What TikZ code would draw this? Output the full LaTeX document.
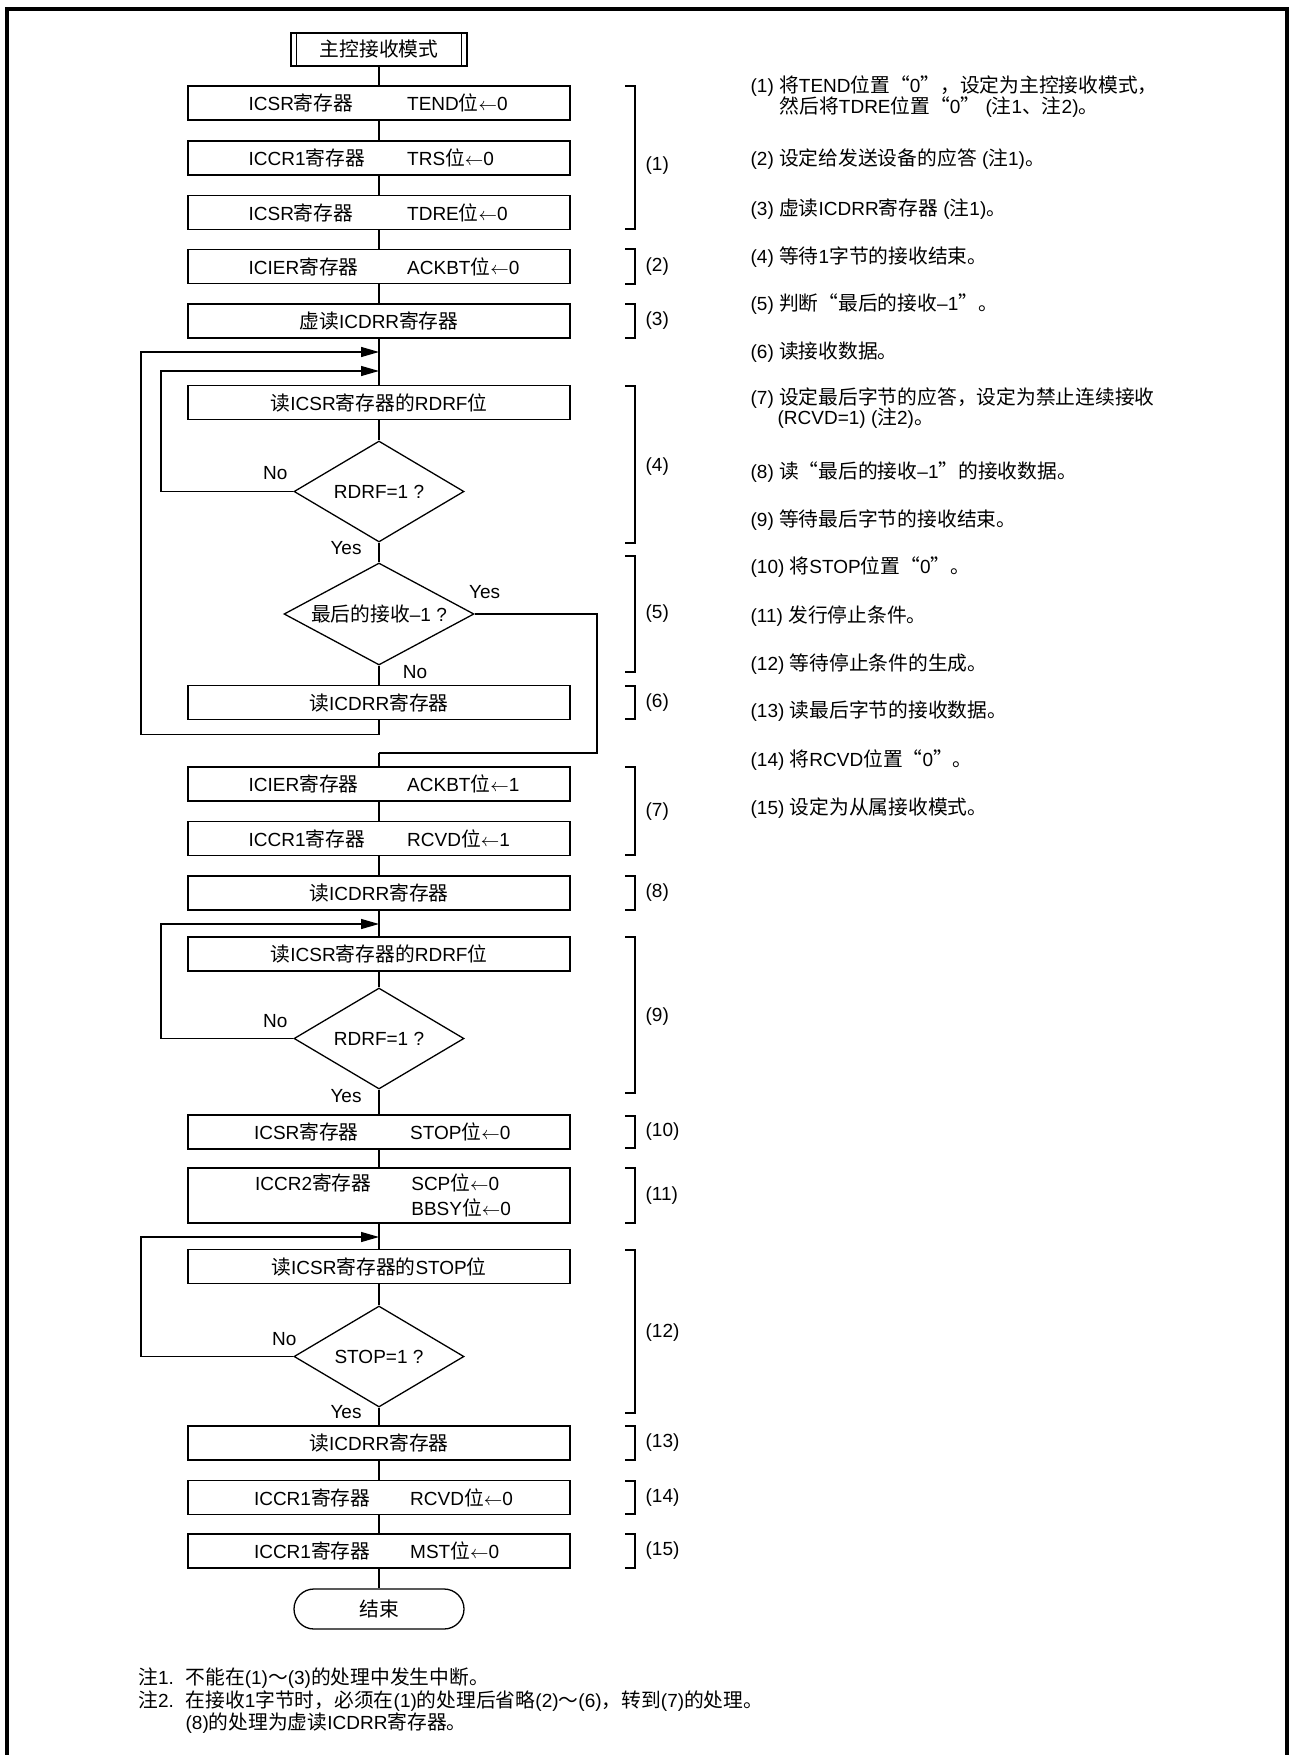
\documentclass[tikz,border=0pt]{standalone}
\usepackage{fontspec}
\setmainfont{Liberation Sans}
\newfontfamily\cjkfont[Scale=1.04]{Noto Sans CJK SC}
\usetikzlibrary{shapes.geometric,arrows.meta,calc}

% switch to the CJK family for Chinese characters
\XeTeXinterchartokenstate=1
\newXeTeXintercharclass\cjkclass
\newcount\cjkcode
\newcommand\setcjkrange[2]{%
  \cjkcode=#1
  \loop
    \XeTeXcharclass\cjkcode=\cjkclass
    \advance\cjkcode by 1
  \ifnum\cjkcode<#2 \repeat}
\setcjkrange{"4E00}{"A000}
\setcjkrange{"3000}{"3040}
\setcjkrange{"FF00}{"FFF0}
\setcjkrange{"201C}{"201E}
\XeTeXinterchartoks 0 \cjkclass = {\cjkfont}
\XeTeXinterchartoks 4095 \cjkclass = {\cjkfont}
\XeTeXinterchartoks \cjkclass 0 = {\rmfamily}
\XeTeXinterchartoks \cjkclass 4095 = {\rmfamily}

\newcommand{\setto}{$\leftarrow$}
\newcommand{\rowA}[2]{\hbox to 191pt{\hskip30.3pt\hbox to 79.3pt{#1\hss}#2\hss}}
\newcommand{\rowB}[2]{\hbox to 191pt{\hskip33pt\hbox to 78.1pt{#1\hss}#2\hss}}

\begin{document}
\begin{tikzpicture}[x=0.5pt, y=-0.5pt, line width=0.65pt,
    font=\fontsize{9.5pt}{11pt}\selectfont,
    box/.style={draw, rectangle, minimum width=191pt, minimum height=17pt, inner sep=0pt},
    dia/.style={draw, diamond, aspect=2, inner sep=0pt, minimum width=85pt, minimum height=50.5pt},
    term/.style={draw, rectangle, rounded corners=10pt, minimum width=85pt, minimum height=20pt, inner sep=0pt},
    txt/.style={anchor=west, inner sep=0pt},
    arr/.style={-{Triangle[length=9pt,width=5pt]}}]
    \useasboundingbox (0,0) rectangle (1291,1755);
    \draw[line width=2pt] (6.5,1755) -- (6.5,9.5) -- (1287,9.5) -- (1287,1755);

    \node[box, minimum width=88pt, minimum height=16.5pt] (start) at (379,49.5) {主控接收模式};
    \draw ([xshift=3.2pt]start.north west) -- ([xshift=3.2pt]start.south west);
    \draw ([xshift=-3.2pt]start.north east) -- ([xshift=-3.2pt]start.south east);

    \node[box] (b1) at (379,103) {\rowA{ICSR寄存器}{TEND位\setto0}};
    \node[box] (b2) at (379,158) {\rowA{ICCR1寄存器}{TRS位\setto0}};
    \node[box] (b3) at (379,212.5) {\rowA{ICSR寄存器}{TDRE位\setto0}};
    \node[box] (b4) at (379,266.5) {\rowA{ICIER寄存器}{ACKBT位\setto0}};
    \node[box] (b5) at (379,321) {虚读ICDRR寄存器};
    \coordinate (m1) at (379,352); \coordinate (m2) at (379,371);
    \node[box] (b6) at (379,402.5) {读ICSR寄存器的RDRF位};
    \node[dia] (d1) at (379,491.5) {RDRF=1 ?};
    \node[dia, minimum width=95pt, minimum height=51pt] (d2) at (379,614) {最后的接收–1 ?};
    \node[box] (b7) at (379,702.5) {读ICDRR寄存器};
    \coordinate (j1) at (379,753);
    \node[box] (b8) at (379,784) {\rowA{ICIER寄存器}{ACKBT位\setto1}};
    \node[box] (b9) at (379,838.5) {\rowA{ICCR1寄存器}{RCVD位\setto1}};
    \node[box] (b10) at (379,893) {读ICDRR寄存器};
    \coordinate (m3) at (379,924);
    \node[box] (b11) at (379,954) {读ICSR寄存器的RDRF位};
    \node[dia] (d3) at (379,1038.5) {RDRF=1 ?};
    \node[box] (b12) at (379,1132) {\rowB{ICSR寄存器}{STOP位\setto0}};
    \node[box, minimum height=27.5pt] (b13) at (379,1195.5) {};
    \node[txt] (b13a) at (254.5,1183) {ICCR2寄存器};
    \node[txt] (b13b) at (410.7,1183) {SCP位\setto0};
    \node[txt] (b13c) at (410.7,1208) {BBSY位\setto0};
    \coordinate (m4) at (379,1237);
    \node[box] (b14) at (379,1266.5) {读ICSR寄存器的STOP位};
    \node[dia] (d4) at (379,1356.5) {STOP=1 ?};
    \node[box] (b15) at (379,1443) {读ICDRR寄存器};
    \node[box] (b16) at (379,1497.5) {\rowB{ICCR1寄存器}{RCVD位\setto0}};
    \node[box] (b17) at (379,1551) {\rowB{ICCR1寄存器}{MST位\setto0}};
    \node[term] (fin) at (379,1609) {结束};

    \draw (start) -- (b1) -- (b2) -- (b3) -- (b4) -- (b5) -- (b6) -- (d1) -- (d2) -- (b7);
    \draw (j1) -- (b8) -- (b9) -- (b10) -- (b11) -- (d3) -- (b12) -- (b13) -- (b14) -- (d4) -- (b15) -- (b16) -- (b17) -- (fin);

    \coordinate (xo) at (141,0); \coordinate (xi) at (161,0); \coordinate (xr) at (597,0);
    \draw[arr] (b7.south) -- ++(0,14) -| (xo |- m1) -- (m1);
    \draw[arr] (d1.west) -| (xi |- m2) -- (m2);
    \draw (d2.east) -| (xr |- j1) -- (j1);
    \draw[arr] (d3.west) -| (xi |- m3) -- (m3);
    \draw[arr] (d4.west) -| (xo |- m4) -- (m4);

    \node (no1) at ($(d1.west)+(-18,-18)$) {No};
    \node (yes1) at ($(d1.south)+(-33,5)$) {Yes};
    \node (yes2) at ($(d2.east)+(10,-22)$) {Yes};
    \node (no2) at ($(d2.south)+(36,6)$) {No};
    \node (no3) at ($(d3.west)+(-18,-17)$) {No};
    \node (yes3) at ($(d3.south)+(-33,6)$) {Yes};
    \node (no4) at ($(d4.west)+(-9,-17)$) {No};
    \node (yes4) at ($(d4.south)+(-33,4)$) {Yes};

    \foreach \t/\b/\k/\ly in {86/229/1/166, 249/284/2/266.5, 304/338/3/321, 386/543/4/467, 556/672/5/614, 686/719/6/702.5, 767/855/7/812, 876/910/8/893, 937/1093/9/1017, 1116/1148/10/1132, 1168/1223/11/1195.5, 1250/1413/12/1333, 1426/1460/13/1443, 1481/1514/14/1497.5, 1534/1568/15/1551} {
        \draw (625,\t) -- (635,\t) -- (635,\b) -- (625,\b);
        \node[txt] (s\k) at (645,\ly) {(\k)};
    }

    \node[txt] (c1) at (750,86) {(1) 将TEND位置“0”，设定为主控接收模式，};
    \node[txt] (c1b) at (779,107) {然后将TDRE位置“0” (注1、注2)。};
    \foreach \k/\y/\s in {2/159/{设定给发送设备的应答 (注1)。}, 3/209/{虚读ICDRR寄存器 (注1)。}, 4/257.5/{等待1字节的接收结束。}, 5/304.5/{判断“最后的接收–1”。}, 6/352.5/{读接收数据。}, 7/398.5/{设定最后字节的应答，设定为禁止连续接收}, 8/472/{读“最后的接收–1”的接收数据。}, 9/520.5/{等待最后字节的接收结束。}, 10/567.5/{将STOP位置“0”。}, 11/616.5/{发行停止条件。}, 12/664.5/{等待停止条件的生成。}, 13/711.5/{读最后字节的接收数据。}, 14/760/{将RCVD位置“0”。}, 15/808/{设定为从属接收模式。}} {
        \node[txt] (c\k) at (750,\y) {(\k) \s};
    }
    \node[txt] (c7b) at (777,418.5) {(RCVD=1) (注2)。};

    \node[txt] (note1) at (137.7,1678) {\makebox[23.6pt][l]{注1.}不能在(1)～(3)的处理中发生中断。};
    \node[txt] (note2) at (137.7,1701.5) {\makebox[23.6pt][l]{注2.}在接收1字节时，必须在(1)的处理后省略(2)～(6)，转到(7)的处理。};
    \node[txt] (note2b) at (185,1723.5) {(8)的处理为虚读ICDRR寄存器。};
\end{tikzpicture}
\end{document}
